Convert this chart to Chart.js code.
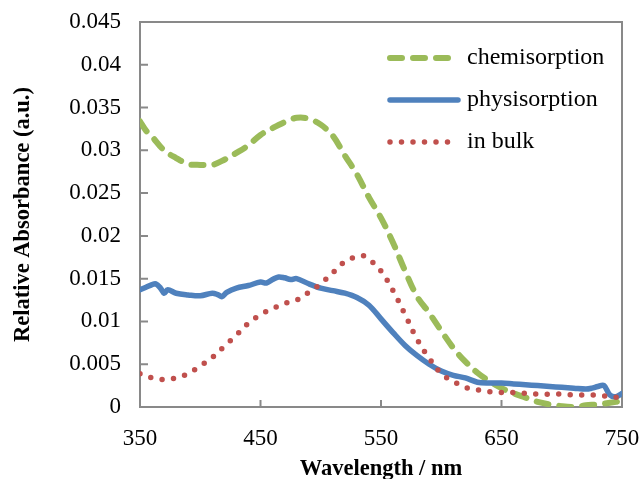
<!DOCTYPE html>
<html>
<head>
<meta charset="utf-8">
<script src="https://cdn.jsdelivr.net/npm/chart.js@4.4.1/dist/chart.umd.min.js"></script>
<style>
  html, body { margin: 0; padding: 0; background: #fff; }
  canvas { display: block; }
</style>
</head>
<body>
<canvas id="chart" width="640" height="479"></canvas>
<script>
// values
const chemiNm = [350,355,360,370,380,390,400,410,420,430,440,450,460,470,480,490,500,510,520,530,540,550,560,570,580,590,600,610,620,630,640,650,660,670,680,690,700,710,720,730,740,750];
const chemiAbs = [0.0334,0.0323,0.0316,0.0300,0.0291,0.0284,0.0283,0.0283,0.0289,0.0297,0.0306,0.0318,0.0326,0.0333,0.0338,0.0337,0.0330,0.0317,0.0294,0.0272,0.0245,0.0221,0.0192,0.0159,0.0129,0.0110,0.0089,0.0069,0.0053,0.0040,0.0030,0.0022,0.0016,0.0011,0.0006,0.0003,0.0001,0.0000,0.0002,0.0003,0.0005,0.0007];

const physNm = [350,355,360,363,367,370,373,380,390,400,410,415,418,422,430,440,450,455,460,465,470,475,480,490,500,510,520,530,540,550,560,570,580,590,600,610,620,630,640,650,660,670,680,690,700,710,720,725,730,735,740,745,750];
const physAbs = [0.0137,0.0140,0.0143,0.0144,0.0139,0.0133,0.0137,0.0133,0.0131,0.0130,0.0133,0.0131,0.0129,0.0134,0.0139,0.0142,0.0146,0.0145,0.0149,0.0152,0.0151,0.0149,0.0150,0.0144,0.0139,0.0136,0.0133,0.0128,0.0119,0.0103,0.0087,0.0072,0.0060,0.0050,0.0042,0.0037,0.0034,0.0029,0.0028,0.0028,0.0027,0.0026,0.0025,0.0024,0.0023,0.0022,0.0021,0.0022,0.0024,0.0025,0.0014,0.0012,0.0016];

const bulkNm = [350,360,370,380,390,400,410,420,430,440,450,460,470,480,490,500,510,520,530,535,540,550,560,570,580,590,600,610,620,630,640,650,660,670,680,690,700,710,720,730,740,750];
const bulkAbs = [0.0039,0.0034,0.0032,0.0034,0.0039,0.0048,0.0058,0.0071,0.0084,0.0098,0.0108,0.0115,0.0121,0.0125,0.0134,0.0144,0.0157,0.0170,0.0176,0.0177,0.0173,0.0159,0.0136,0.0108,0.0079,0.0057,0.0039,0.0030,0.0023,0.0020,0.0018,0.0017,0.0017,0.0016,0.0015,0.0015,0.0015,0.0014,0.0014,0.0014,0.0012,0.0011];

const seriesNames = ['chemisorption', 'physisorption', 'in bulk'];
const xTicks = [350, 450, 550, 650, 750];
const yTicks = [0, 0.005, 0.01, 0.015, 0.02, 0.025, 0.03, 0.035, 0.04, 0.045];

const FONT = "'Liberation Serif', 'Times New Roman', serif";
const pts = (xs, ys) => xs.map((x, i) => ({ x: x, y: ys[i] }));

// grey box round the plot + short inward tick marks
const frame = {
    id: 'frame',
    beforeDatasetsDraw(chart) {
        const { ctx, chartArea: a, scales } = chart;
        ctx.save();
        ctx.strokeStyle = '#898989';
        ctx.lineWidth = 2;
        ctx.strokeRect(a.left, a.top, a.right - a.left, a.bottom - a.top);
        ctx.beginPath();
        scales.x.ticks.forEach(t => {
            const px = scales.x.getPixelForValue(t.value);
            ctx.moveTo(px, a.bottom);
            ctx.lineTo(px, a.bottom - 7);
        });
        scales.y.ticks.forEach(t => {
            const py = scales.y.getPixelForValue(t.value);
            ctx.moveTo(a.left, py);
            ctx.lineTo(a.left + 8, py);
        });
        ctx.stroke();
        ctx.restore();
    }
};

// legend sits inside the plot, top right
const insideLegend = {
    id: 'insideLegend',
    afterDraw(chart) {
        const { ctx } = chart;
        const rows = [58, 100, 142];
        chart.data.datasets.forEach((ds, i) => {
            const y = rows[i];
            ctx.save();
            ctx.strokeStyle = ds.borderColor;
            ctx.lineWidth = ds.borderWidth;
            ctx.lineCap = 'round';
            ctx.setLineDash(ds.borderDash || []);
            ctx.beginPath();
            ctx.moveTo(390, y);
            ctx.lineTo(ds.borderDash ? 452 : 458, y);
            ctx.stroke();
            ctx.setLineDash([]);
            ctx.fillStyle = '#000';
            ctx.font = '24px ' + FONT;
            ctx.textBaseline = 'middle';
            ctx.fillText(ds.label, 467, y);
            ctx.restore();
        });
    }
};

new Chart(document.getElementById('chart'), {
    type: 'line',
    data: {
        datasets: [
            {
                label: seriesNames[0],
                data: pts(chemiNm, chemiAbs),
                borderColor: '#9BBB59',
                borderWidth: 6,
                borderDash: [12, 11],
                borderCapStyle: 'round',
                order: 2
            },
            {
                label: seriesNames[1],
                data: pts(physNm, physAbs),
                borderColor: '#4F81BD',
                borderWidth: 5.5,
                borderCapStyle: 'round',
                order: 1
            },
            {
                label: seriesNames[2],
                data: pts(bulkNm, bulkAbs),
                borderColor: '#C0504D',
                borderWidth: 5.5,
                borderDash: [0, 11.5],
                borderCapStyle: 'round',
                order: 0
            }
        ]
    },
    options: {
        responsive: false,
        animation: false,
        devicePixelRatio: 1,
        elements: {
            point: { radius: 0 },
            line: { tension: 0.35, borderJoinStyle: 'round', fill: false }
        },
        layout: { padding: { top: 22, right: 18, left: 0, bottom: 0 } },
        plugins: { legend: { display: false }, tooltip: { enabled: false } },
        scales: {
            x: {
                type: 'linear',
                min: 350,
                max: 750,
                afterBuildTicks: s => { s.ticks = xTicks.map(v => ({ value: v })); },
                afterFit: s => { s.height = 72; s.paddingLeft = 0; s.paddingRight = 0; },
                grid: { display: false, drawTicks: false },
                border: { display: false },
                ticks: { color: '#000', padding: 18, maxRotation: 0, font: { family: FONT, size: 23 } },
                title: {
                    display: true,
                    text: 'Wavelength / nm',
                    color: '#000',
                    font: { family: FONT, size: 22.5, weight: 'bold' },
                    padding: { top: 0, bottom: -4 }
                }
            },
            y: {
                min: 0,
                max: 0.045,
                afterBuildTicks: s => { s.ticks = yTicks.map(v => ({ value: v })); },
                afterFit: s => { s.width = 140; s.paddingTop = 0; s.paddingBottom = 0; },
                grid: { display: false, drawTicks: false },
                border: { display: false },
                ticks: {
                    color: '#000',
                    padding: 19,
                    font: { family: FONT, size: 23 },
                    callback: v => String(+v.toFixed(3))
                },
                title: {
                    display: true,
                    text: 'Relative Absorbance (a.u.)',
                    color: '#000',
                    font: { family: FONT, size: 22.5, weight: 'bold' },
                    padding: { top: 10, bottom: 0 }
                }
            }
        }
    },
    plugins: [frame, insideLegend]
});
</script>
</body>
</html>
